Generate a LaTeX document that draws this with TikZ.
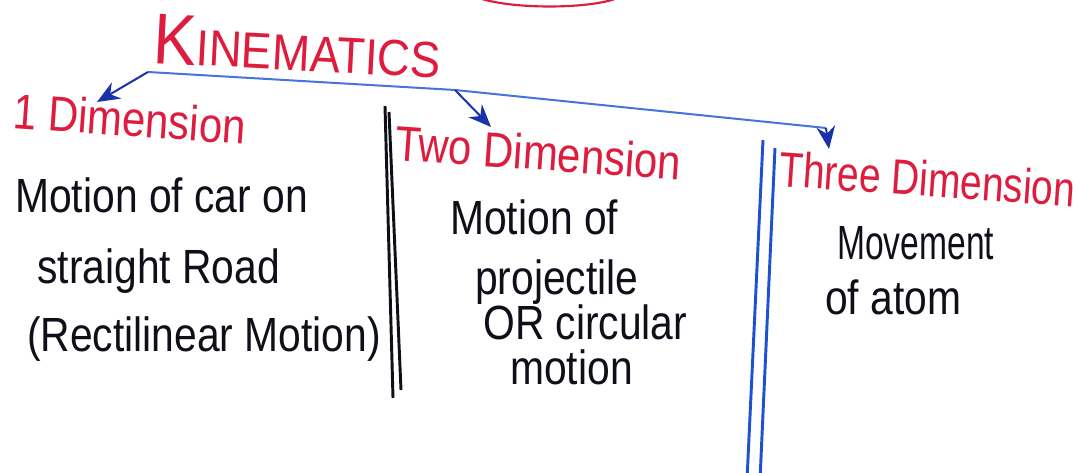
\documentclass[tikz,border=0pt]{standalone}
\usepackage{fontspec}
\usepackage{graphicx}
\setmainfont{Liberation Sans}
\usetikzlibrary{arrows.meta}
\definecolor{inkred}{RGB}{222,28,62}
\definecolor{inkblue}{RGB}{70,115,220}
\definecolor{inkdark}{RGB}{25,50,170}
\definecolor{inkrule}{RGB}{30,80,210}
\definecolor{inkblack}{RGB}{15,15,25}
\newcommand\narrowtxt[1]{\scalebox{0.85}[1]{#1}}
\begin{document}
\begin{tikzpicture}[x=0.75pt,y=-0.75pt,
  head/.style={inkred, font=\fontsize{37}{40}\selectfont, inner sep=0pt, anchor=base west, rotate=-4},
  body/.style={inkblack, font=\fontsize{36}{40}\selectfont, inner sep=0pt, anchor=base west},
  tree/.style={inkblue, line width=1.5pt, line join=round},
  arr/.style={inkdark, line width=1.5pt, -{Stealth[length=17pt,width=14pt]}},
  blackrule/.style={inkblack, line width=2.2pt},
  bluerule/.style={inkrule, line width=2.2pt},
  redarc/.style={inkred, line width=1.6pt}]
\fill[white] (0,0) rectangle (1075,473);
\useasboundingbox (0,0) rectangle (1075,473);
\clip (0,0) rectangle (1075,473);

% red arc at top
\draw[redarc] (482,-1) .. controls (515,9) and (585,9) .. (615,-1);

% title
\node[inkred, inner sep=0pt, anchor=base west, rotate=-3] (title) at (152,63)
  {\scalebox{0.9}[1]{\fontsize{54}{56}\selectfont K\fontsize{38}{40}\selectfont INEMATICS}};

% headings
\node[head] (one) at (12,128) {\narrowtxt{1 Dimension}};
\node[head] (two) at (394,160) {\narrowtxt{Two Dimension}};
\node[head] (three) at (778,186) {\scalebox{0.79}[1]{Three Dimension}};

% tree connectors
\coordinate (hub) at (148,72);
\coordinate (b2) at (455,90);
\coordinate (b3) at (826,128);
\coordinate (t1) at (97,102);
\coordinate (t2) at (491,127);
\coordinate (t3) at (829,149);
\draw[tree] (hub) -- (b2) -- (b3);
\draw[arr] (hub) -- (t1);
\draw[arr] (b2) -- (t2);
\draw[arr] (b3) -- (t3);

% separators
\coordinate (k1a) at (385,106); \coordinate (k1b) at (393,398);
\coordinate (k2a) at (389,112); \coordinate (k2b) at (401,390);
\draw[blackrule] (k1a) -- (k1b);
\draw[blackrule] (k2a) -- (k2b);
\coordinate (u1a) at (763,140); \coordinate (u1b) at (747,480);
\coordinate (u2a) at (775,148); \coordinate (u2b) at (760,480);
\draw[bluerule] (u1a) -- (u1b);
\draw[bluerule] (u2a) -- (u2b);

% column 1
\node[body] (a1) at (15,213) {\narrowtxt{Motion of car on}};
\node[body] (a2) at (37,284) {\narrowtxt{straight Road}};
\node[body] (a3) at (27,352) {\narrowtxt{(Rectilinear Motion)}};

% column 2
\node[body] (c1) at (450,235) {\narrowtxt{Motion of}};
\node[body] (c2) at (475,295) {\narrowtxt{projectile}};
\node[body] (c3) at (483,340) {\narrowtxt{OR circular}};
\node[body] (c4) at (510,385) {\narrowtxt{motion}};

% column 3
\node[body] (d1) at (837,260) {\scalebox{0.7}[1]{Movement}};
\node[body] (d2) at (825,315) {\narrowtxt{of atom}};
\end{tikzpicture}
\end{document}
